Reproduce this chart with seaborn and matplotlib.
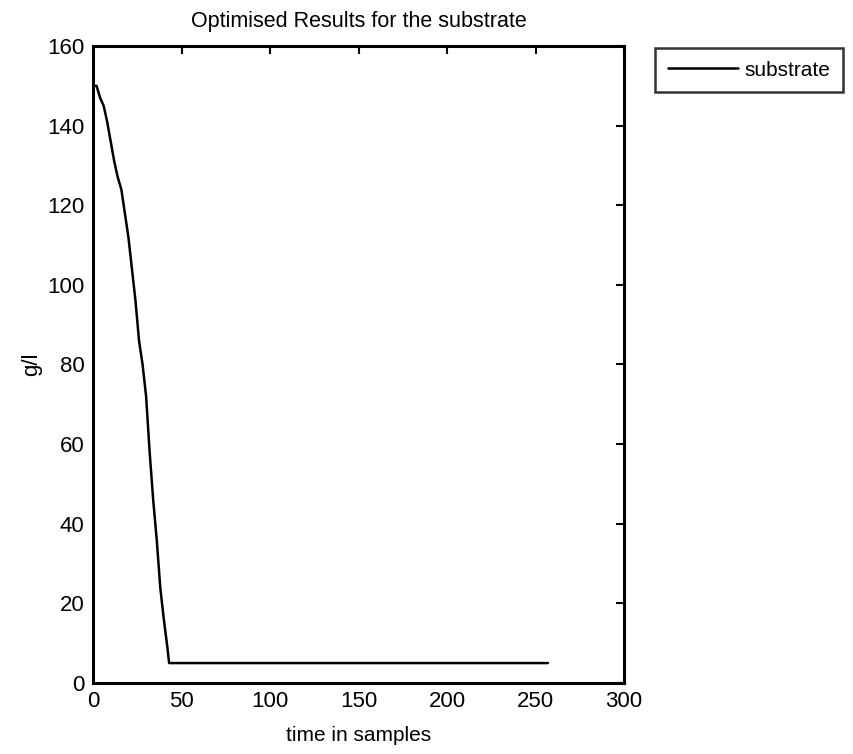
import matplotlib
matplotlib.use("Agg")
import matplotlib.pyplot as plt
import seaborn as sns
import pandas as pd

# substrate concentration over the sample index
samples = [0, 2, 4, 6, 8, 10, 12, 14, 16, 18, 20, 22, 24, 26, 28, 30,
           32, 34, 36, 38, 40, 42, 43, 257]
substrate = [150, 150, 147, 145, 141, 136, 131, 127, 124, 118, 112, 104,
             96, 86, 80, 72, 58, 46, 36, 24, 16, 9, 5, 5]

x_ticks = [0, 50, 100, 150, 200, 250, 300]
y_ticks = [0, 20, 40, 60, 80, 100, 120, 140, 160]

sns.set_style("white")
plt.rcParams['font.family'] = ['Liberation Sans Narrow', 'Liberation Sans', 'DejaVu Sans']
plt.rcParams['text.color'] = 'black'
plt.rcParams['axes.labelcolor'] = 'black'

df = pd.DataFrame({"time": samples, "substrate": substrate})

fig = plt.figure(figsize=(8.54, 7.54), dpi=100)
ax = fig.add_axes([0.1089, 0.0942, 0.6218, 0.8448])

sns.lineplot(data=df, x="time", y="substrate", ax=ax, color="black",
             linewidth=1.8, label="substrate", legend=False)

ax.set_xlim(0, 300)
ax.set_ylim(0, 160)
ax.set_xticks(x_ticks)
ax.set_yticks(y_ticks)
ax.tick_params(direction="in", length=6, width=1.5, top=True, right=True,
               labelsize=16, pad=6, colors="black")
for s in ax.spines.values():
    s.set_linewidth(2.2)
    s.set_color("black")
    s.set_visible(True)

ax.set_title("Optimised Results for the substrate", fontsize=15.5, pad=14)
ax.set_xlabel("time in samples", fontsize=15, labelpad=10)
ax.set_ylabel("g/l", fontsize=16, labelpad=4)

leg = fig.legend(loc="upper left", bbox_to_anchor=(0.767, 0.936),
                 fontsize=15, frameon=True, fancybox=False,
                 edgecolor="black", borderpad=0.6, handlelength=3.4,
                 handletextpad=0.3, borderaxespad=0)
leg.get_frame().set_linewidth(1.8)

fig.savefig("out.png", dpi=100, facecolor="white")
